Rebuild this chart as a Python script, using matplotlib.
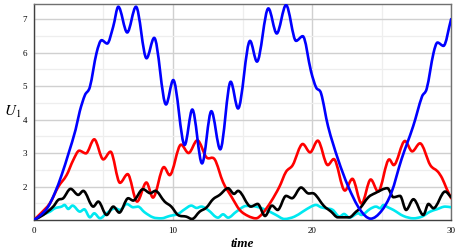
import numpy as np
import matplotlib
matplotlib.use("Agg")
import matplotlib.pyplot as plt
from matplotlib.path import Path
from matplotlib.patches import PathPatch

plt.rcParams["mathtext.fontset"] = "stix"

# values (t, U)
blue_t = [0, 0.5, 1.0, 1.5, 2.0, 2.5, 3.0, 3.3, 3.67, 4.03, 4.5, 4.87, 5.27, 5.7, 6.07,
          6.71, 7.34, 8.1, 8.65, 9.5, 10.02, 10.84, 11.39, 12.09, 12.76, 13.4, 14.15,
          14.68, 15.54, 16.04, 16.86, 17.46, 18.13, 18.85, 19.33, 19.93, 20.29, 20.65,
          21.15, 21.87, 22.59, 23.43, 24.22, 24.99, 25.7, 26.43, 27.27, 27.9, 28.25,
          28.73, 29.02, 29.45, 30]
blue_u = [1, 1.15, 1.38, 1.8, 2.35, 3.0, 3.7, 4.25, 4.73, 4.98, 5.98, 6.37, 6.27, 6.77, 7.37,
          6.6, 7.37, 5.83, 6.44, 4.45, 5.18, 3.24, 4.3, 2.69, 4.25, 3.11, 5.13,
          4.33, 6.35, 5.73, 7.32, 6.57, 7.42, 6.35, 6.49, 5.43, 4.96, 4.78,
          3.8, 2.81, 2.01, 1.32, 1.04, 1.27, 1.81, 2.81, 3.8, 4.68, 4.93,
          5.98, 6.3, 6.2, 7.0]

red_t = [0, 0.5, 1.15, 1.75, 2.35, 2.83, 3.26, 3.74, 4.34, 4.99, 5.51, 6.19, 6.74, 7.42,
         8.09, 8.56, 9.35, 9.76, 10.58, 11.12, 11.75, 12.41, 13.0, 13.6, 14.2, 14.8, 15.4,
         15.97, 16.45, 17.05, 17.65, 18.13, 18.61, 19.33, 19.86, 20.41, 21.13, 21.56,
         22.36, 22.9, 23.56, 24.22, 24.75, 25.55, 25.87, 26.68, 27.2, 27.76, 28.5, 29.03,
         29.35, 29.66, 30]
red_u = [1, 1.2, 1.5, 1.99, 2.34, 2.79, 3.07, 2.99, 3.41, 2.81, 3.04, 2.11, 2.37, 1.55,
         2.12, 1.67, 2.58, 2.34, 3.25, 3.0, 3.38, 2.87, 2.81, 2.13, 1.7, 1.3, 1.12,
         1.05, 1.2, 1.55, 1.99, 2.44, 2.64, 3.27, 3.02, 3.37, 2.64, 2.82,
         1.88, 2.23, 1.49, 2.21, 1.85, 2.81, 2.64, 3.36, 3.05, 3.29, 2.64, 2.45,
         2.25, 1.95, 1.65]

black_t = [0, 0.67, 1.39, 1.75, 2.11, 2.64, 3.19, 3.55, 4.27, 4.63, 5.23, 5.71, 6.14, 6.78,
           7.14, 7.84, 8.37, 8.73, 9.4, 9.88, 10.36, 10.96, 11.37, 11.92, 12.4, 12.88,
           13.36, 13.96, 14.39, 14.68, 15.6, 16.09, 16.62, 17.12, 17.53, 18.13, 18.56,
           19.21, 19.69, 20.17, 20.85, 21.37, 21.85, 22.68, 23.17, 23.45, 24.05, 24.53,
           25.42, 25.85, 26.33, 26.76, 27.29, 28.0, 28.37, 28.73, 29.57, 30]
black_u = [1, 1.15, 1.4, 1.6, 1.65, 1.93, 1.75, 1.87, 1.4, 1.55, 1.15, 1.4, 1.22, 1.65,
           1.58, 1.92, 1.8, 1.87, 1.55, 1.4, 1.15, 1.1, 1.03, 1.25, 1.37, 1.62,
           1.75, 1.95, 1.78, 1.87, 1.4, 1.48, 1.12, 1.43, 1.3, 1.72, 1.65,
           1.97, 1.8, 1.78, 1.42, 1.25, 1.08, 1.08, 1.25, 1.35, 1.68, 1.8,
           1.95, 1.68, 1.72, 1.3, 1.62, 1.15, 1.48, 1.35, 1.85, 1.68]

cyan_t = [0, 0.43, 1.15, 1.51, 1.99, 2.2, 2.47, 2.78, 3.31, 3.62, 4.03, 4.34, 4.75, 5.23,
          5.83, 6.2, 6.67, 7.14, 7.48, 7.96, 8.56, 9.16, 9.76, 10.36, 10.84, 11.32, 11.7,
          12.04, 12.52, 13.24, 13.6, 13.96, 14.56, 15.27, 15.97, 16.69, 17.41, 18.01,
          18.73, 19.33, 19.93, 20.29, 20.65, 21.0, 21.49, 21.97, 22.3, 22.68, 23.33,
          23.55, 24.17, 24.6, 24.9, 25.13, 25.45, 25.85, 26.57, 27.29, 27.89, 28.49,
          28.97, 29.57, 30]
cyan_u = [1, 1.12, 1.25, 1.35, 1.4, 1.45, 1.33, 1.43, 1.25, 1.32, 1.08, 1.2, 1.05, 1.2,
          1.35, 1.3, 1.48, 1.38, 1.4, 1.23, 1.08, 1.05, 1.12, 1.18, 1.32, 1.43, 1.36,
          1.4, 1.3, 1.07, 1.17, 1.07, 1.25, 1.42, 1.4, 1.3, 1.15, 1.03,
          1.1, 1.25, 1.4, 1.45, 1.38, 1.35, 1.3, 1.1, 1.18, 1.07, 1.2,
          1.15, 1.33, 1.4, 1.35, 1.45, 1.38, 1.3, 1.12, 1.05, 1.1, 1.25,
          1.32, 1.4, 1.38]

x_ticks = [0, 10, 20, 30]
y_ticks = [2, 3, 4, 5, 6, 7]


def smooth_path(t, u):
    # cubic Bezier segments through the read points (flat tangent at extremes)
    t = np.asarray(t, float)
    u = np.asarray(u, float)
    n = len(t)
    m = np.zeros(n)
    for i in range(n):
        if i == 0:
            m[i] = (u[1] - u[0]) / (t[1] - t[0])
        elif i == n - 1:
            m[i] = (u[-1] - u[-2]) / (t[-1] - t[-2])
        else:
            d0 = u[i] - u[i - 1]
            d1 = u[i + 1] - u[i]
            if d0 * d1 <= 0:
                m[i] = 0.0
            else:
                m[i] = (u[i + 1] - u[i - 1]) / (t[i + 1] - t[i - 1])
    verts = [(t[0], u[0])]
    codes = [Path.MOVETO]
    for i in range(n - 1):
        h = t[i + 1] - t[i]
        verts += [(t[i] + h / 3, u[i] + m[i] * h / 3),
                  (t[i + 1] - h / 3, u[i + 1] - m[i + 1] * h / 3),
                  (t[i + 1], u[i + 1])]
        codes += [Path.CURVE4] * 3
    return Path(verts, codes)


fig = plt.figure(figsize=(4.58, 2.52), dpi=100)
ax = fig.add_axes([0.074, 0.127, 0.911, 0.857])

for tt, uu, col in [(cyan_t, cyan_u, "#00e8f0"), (red_t, red_u, "#ff0000"),
                    (black_t, black_u, "#000000"), (blue_t, blue_u, "#0000ff")]:
    ax.add_patch(PathPatch(smooth_path(tt, uu), facecolor="none", edgecolor=col,
                           lw=1.9, capstyle="round", joinstyle="round", zorder=3))

ax.set_xlim(0, 30)
ax.set_ylim(1, 7.45)
ax.set_xticks(x_ticks)
ax.set_yticks(y_ticks)
ax.set_xticks([5, 15, 25], minor=True)
ax.set_yticks([1.5, 2.5, 3.5, 4.5, 5.5, 6.5], minor=True)
ax.grid(which="major", color="#d0d0d0", lw=1.0)
ax.grid(which="minor", color="#eeeeee", lw=0.9)
ax.set_axisbelow(True)
ax.tick_params(which="both", length=0)
ax.tick_params(axis="x", pad=5)
ax.tick_params(axis="y", pad=5)
for lab in ax.get_xticklabels() + ax.get_yticklabels():
    lab.set_family("Liberation Serif")
    lab.set_fontsize(6.5)

for s in ax.spines.values():
    s.set_color("#707070")
    s.set_linewidth(1.0)
ax.spines["left"].set_color("#404040")
ax.spines["bottom"].set_color("#404040")

ax.set_xlabel("time", family="Liberation Serif", style="italic", weight="bold",
              fontsize=9.5, labelpad=2)
ax.set_ylabel("$U_1$", fontsize=11, rotation=0, labelpad=7, va="center")

plt.savefig("out.png", dpi=100)
plt.close()
